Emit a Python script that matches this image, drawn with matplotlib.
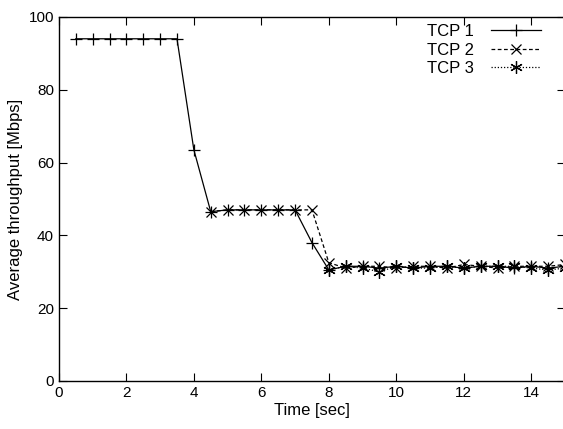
import numpy as np
import matplotlib
matplotlib.use('Agg')
import matplotlib.pyplot as plt

plt.rcParams['font.family'] = ['Liberation Sans', 'DejaVu Sans']

# TCP 1 runs the whole time, TCP 2 joins at 4.5 s, TCP 3 at 8 s
t1 = [0.5, 1.0, 1.5, 2.0, 2.5, 3.0, 3.5, 4.0, 4.5, 5.0, 5.5, 6.0, 6.5, 7.0, 7.5,
      8.0, 8.5, 9.0, 9.5, 10.0, 10.5, 11.0, 11.5, 12.0, 12.5, 13.0, 13.5, 14.0, 14.5, 15.0]
tcp1 = [94, 94, 94, 94, 94, 94, 94, 63.5, 46.5, 47, 47, 47, 47, 47, 38,
        30.5, 31.5, 31.5, 31, 31.5, 31, 31.5, 31.5, 31, 31.5, 31.5, 31, 31.5, 31, 31.5]

t2 = [4.5, 5.0, 5.5, 6.0, 6.5, 7.0, 7.5,
      8.0, 8.5, 9.0, 9.5, 10.0, 10.5, 11.0, 11.5, 12.0, 12.5, 13.0, 13.5, 14.0, 14.5, 15.0]
tcp2 = [46.5, 47, 47, 47, 47, 47, 47,
        32.5, 31, 31.5, 31.5, 31, 31.5, 31.5, 31, 32, 31.5, 31, 31.5, 31.5, 31.5, 32]

t3 = [8.0, 8.5, 9.0, 9.5, 10.0, 10.5, 11.0, 11.5, 12.0, 12.5, 13.0, 13.5, 14.0, 14.5, 15.0]
tcp3 = [30.5, 31.5, 31, 30, 31.5, 31, 31, 31.5, 31, 31.5, 31.5, 31.5, 31, 30.5, 31]

fig = plt.figure(figsize=(5.63, 4.29), dpi=100)
ax = fig.add_axes([0.1046, 0.112, 0.8990, 0.8485])

ax.plot(t1, tcp1, color='black', lw=0.9, marker='+', ms=9, mew=0.9, label='TCP 1')
ax.plot(t2, tcp2, color='black', lw=0.9, ls=(0, (3, 2)), marker='x', ms=7, mew=0.9, label='TCP 2')
ax.plot(t3, tcp3, color='black', lw=0.9, ls=(0, (1, 1.5)), marker=(6, 2, 0), ms=9, mew=0.9, label='TCP 3')

ax.set_xlim(0, 15)
ax.set_ylim(0, 100)
ax.set_xticks(np.arange(0, 16, 2))
ax.set_yticks(np.arange(0, 101, 20))
ax.tick_params(direction='in', length=6, width=0.8, top=True, right=True, labelsize=11)
ax.set_xlabel('Time [sec]', fontsize=12, labelpad=2)
ax.set_ylabel('Average throughput [Mbps]', fontsize=12, labelpad=4)
for s in ax.spines.values():
    s.set_linewidth(1.0)

ax.legend(loc='upper right', bbox_to_anchor=(0.975, 1.012), frameon=False, markerfirst=False,
          fontsize=12, handlelength=3.0, handletextpad=1.0, labelspacing=0.2, borderpad=0.2)

fig.savefig('out.png', dpi=100)
